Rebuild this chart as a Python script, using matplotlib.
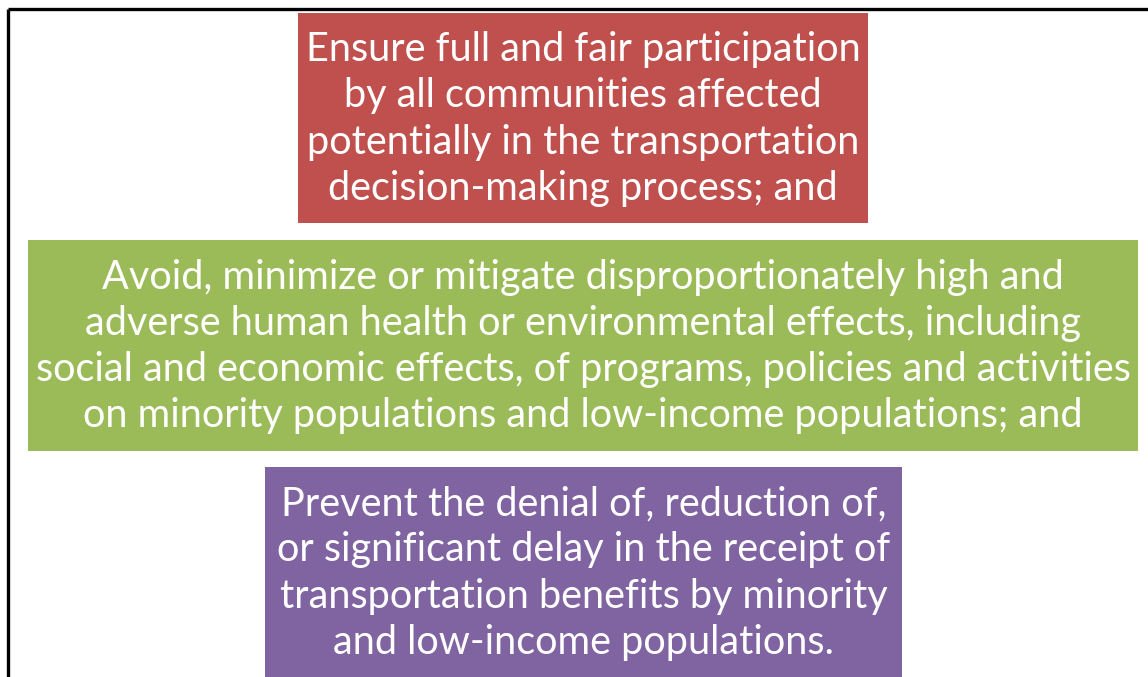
import matplotlib
matplotlib.use("Agg")
import matplotlib.pyplot as plt
from matplotlib.patches import Rectangle

# 상자 안의 문장들 (위에서 아래 순서)
box_texts = [
    "Ensure full and fair participation\nby all communities affected\npotentially in the transportation\ndecision-making process; and",
    "Avoid, minimize or mitigate disproportionately high and\nadverse human health or environmental effects, including\nsocial and economic effects, of programs, policies and activities\non minority populations and low-income populations; and",
    "Prevent the denial of, reduction of,\nor significant delay in the receipt of\ntransportation benefits by minority\nand low-income populations.",
]
box_colors = ["#C0504D", "#9BBB59", "#8064A2"]

# 상자 위치 (픽셀 단위: 왼쪽, 위, 오른쪽, 아래)
box_extents = [
    (298, 13, 868, 223),
    (28, 240, 1138, 451),
    (265, 467, 902, 677),
]

W, H = 1148, 677
fig = plt.figure(figsize=(W / 100, H / 100), dpi=100)
ax = fig.add_axes([0, 0, 1, 1])
ax.set_xlim(0, W)
ax.set_ylim(H, 0)
ax.axis("off")

# 바깥 검은 테두리 (위쪽, 왼쪽만 보임)
ax.plot([7.5, W], [9, 9], color="black", lw=2.4, solid_capstyle="butt")
ax.plot([7.5, 7.5], [9, H], color="black", lw=2.4, solid_capstyle="butt")

for (x0, y0, x1, y1), txt, col in zip(box_extents, box_texts, box_colors):
    ax.add_patch(Rectangle((x0, y0), x1 - x0, y1 - y0, facecolor=col,
                           edgecolor="none"))
    ax.text((x0 + x1) / 2, (y0 + y1) / 2 + 1, txt, ha="center", va="center",
            color="white", fontsize=28.5, family="Lato", linespacing=1.31)

fig.savefig("out.png", dpi=100)
